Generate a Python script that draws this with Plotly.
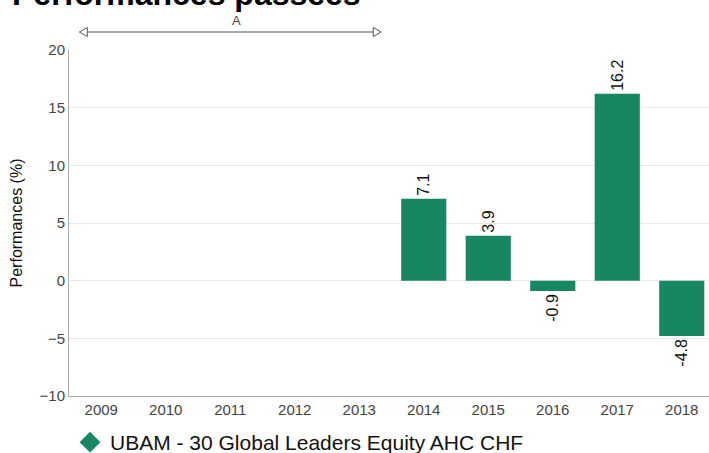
import plotly.graph_objects as go

# ---- data ----
years = ["2009", "2010", "2011", "2012", "2013", "2014", "2015", "2016", "2017", "2018"]
perf = [None, None, None, None, None, 7.1, 3.9, -0.9, 16.2, -4.8]
perf_labels = ["", "", "", "", "", "7.1", "3.9", "-0.9", "16.2", "-4.8"]
series_name = "UBAM - 30 Global Leaders Equity AHC CHF"
title_text = "Performances passées"
yaxis_title = "Performances (%)"
period_label = "A"
period_start = "2009"
period_end = "2013"

GREEN = "#168762"
FONT = "Liberation Sans, Arial, sans-serif"

# body margin removed via post_script; figure extends past the window bottom (clipped like the reference)
OFF = 0
W, H = 709, 470
ML, MR, MT = 69, 0, 50
plot_h = 346
MB = H - MT - plot_h
plot_w = W - ML - MR
x_range = [-0.5, -0.5 + plot_w / 64.5]


def py(screen_y):
    """screen pixel y -> paper y"""
    fy = screen_y - OFF
    return (MT + plot_h - fy) / plot_h


def pxs(screen_x):
    """screen pixel x -> paper x"""
    return (screen_x - OFF - ML) / plot_w


fig = go.Figure()
fig.add_trace(go.Bar(
    x=years, y=perf,
    marker=dict(color=GREEN, line=dict(width=0)),
    text=perf_labels, textposition="outside", textangle=-90,
    textfont=dict(family=FONT, size=16, color="#111"),
    cliponaxis=False, showlegend=False, hoverinfo="x+y",
))
# legend entry (diamond symbol)
fig.add_trace(go.Scatter(
    x=[None], y=[None], mode="markers", name=series_name,
    marker=dict(symbol="diamond", size=22, color=GREEN),
    showlegend=True,
))

# period arrow "A" above the 2009-2013 band
i0 = years.index(period_start) - 0.34
i1 = years.index(period_end) + 0.34


def pidx(i):
    return (i - x_range[0]) / (x_range[1] - x_range[0])


ya = py(32)
xa0, xa1 = pidx(i0), pidx(i1)
tw = 8 / plot_w
th = 4.5 / plot_h
line_col = "#555"
fig.add_shape(type="line", xref="paper", yref="paper",
              x0=xa0 + tw, x1=xa1 - tw, y0=ya, y1=ya,
              line=dict(color=line_col, width=1))
fig.add_shape(type="path", xref="paper", yref="paper",
              path=f"M {xa0} {ya} L {xa0 + tw} {ya + th} L {xa0 + tw} {ya - th} Z",
              line=dict(color=line_col, width=1), fillcolor="white")
fig.add_shape(type="path", xref="paper", yref="paper",
              path=f"M {xa1} {ya} L {xa1 - tw} {ya + th} L {xa1 - tw} {ya - th} Z",
              line=dict(color=line_col, width=1), fillcolor="white")
fig.add_annotation(xref="paper", yref="paper", x=(xa0 + xa1) / 2, y=ya + 2 / plot_h,
                   text=period_label, showarrow=False, yanchor="bottom",
                   font=dict(family=FONT, size=13, color="#444"))

# title (partially cut at the top like the reference)
fig.add_annotation(xref="paper", yref="paper", x=pxs(10),
                   y=py(14), xanchor="left", yanchor="bottom",
                   text=f"<b>{title_text}</b>", showarrow=False,
                   font=dict(family=FONT, size=32, color="#000"))

fig.update_layout(
    width=W, height=H,
    margin=dict(l=ML, r=MR, t=MT, b=MB, pad=0),
    paper_bgcolor="white", plot_bgcolor="white",
    bargap=0.3,
    font=dict(family=FONT, color="#444"),
    legend=dict(orientation="h", x=pxs(70), xanchor="left",
                y=py(422), yanchor="top",
                font=dict(family=FONT, size=21, color="#111"),
                bgcolor="rgba(0,0,0,0)"),
    xaxis=dict(type="category", categoryarray=years, range=x_range,
               showline=True, linecolor="#aaa", linewidth=1,
               showgrid=False, ticks="", tickfont=dict(family=FONT, size=15, color="#444")),
    yaxis=dict(range=[-10, 20], dtick=5, showline=True, linecolor="#aaa", linewidth=1,
               showgrid=True, gridcolor="#e8e8e8", gridwidth=1, zeroline=False,
               ticks="", tickfont=dict(family=FONT, size=15, color="#444"),
               title=dict(text=yaxis_title, font=dict(family=FONT, size=16, color="#111"),
                          standoff=12)),
)

fig.write_html("out.html", config={"displayModeBar": False},
               post_script="document.body.style.margin='0';")
